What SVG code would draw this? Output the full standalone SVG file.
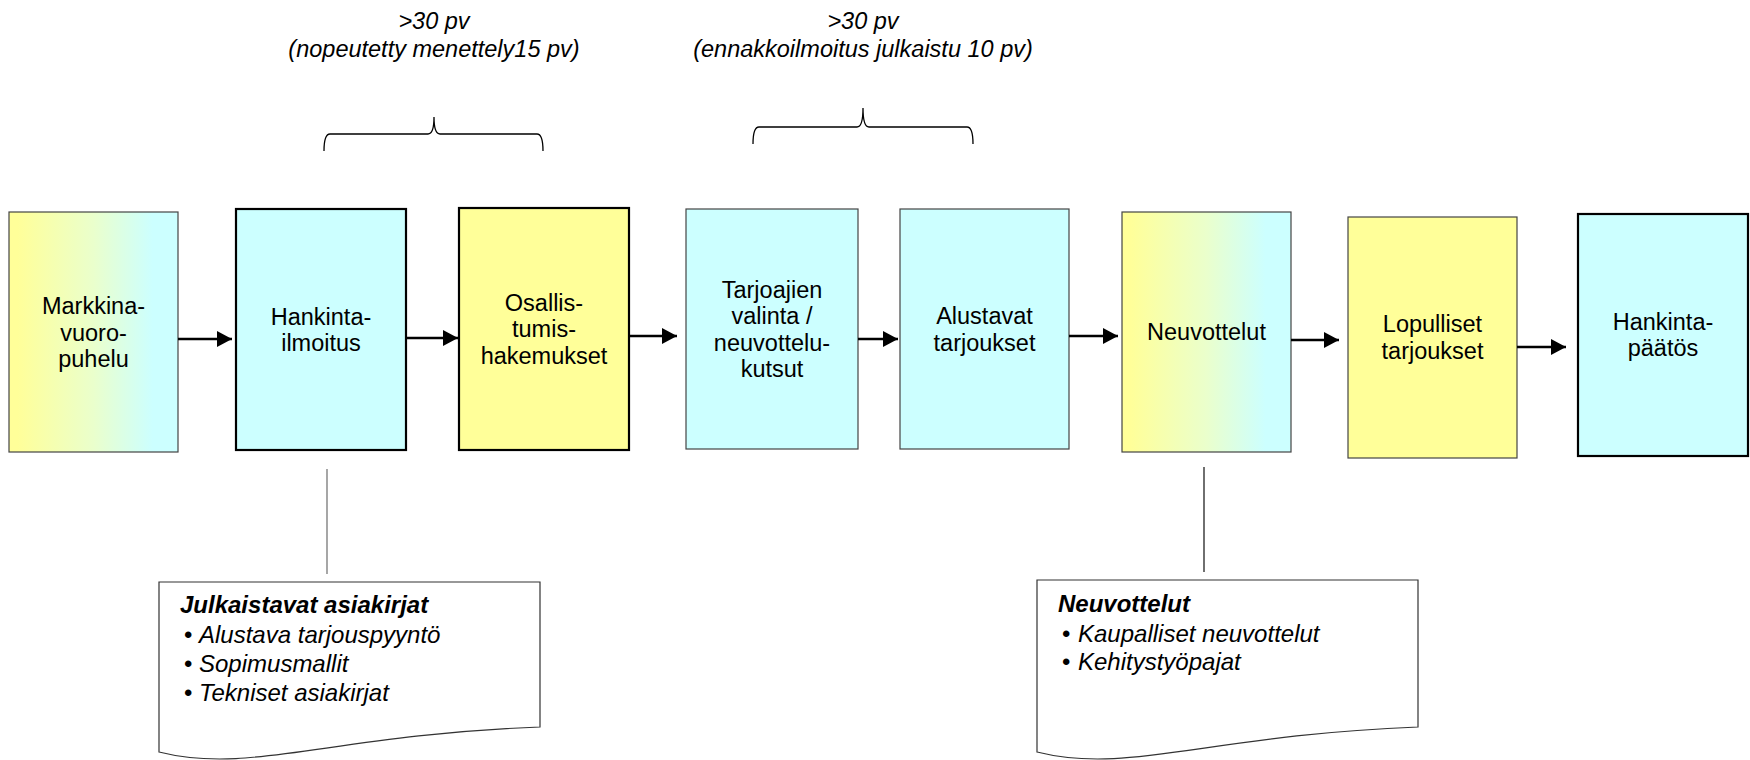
<svg xmlns="http://www.w3.org/2000/svg" width="1750" height="760" viewBox="0 0 1750 760">
<style>
  text { font-family: "Liberation Sans", Arial, sans-serif; fill: #000; }
  .lbl { font-size: 23.5px; text-anchor: middle; }
  .top { font-size: 23.5px; text-anchor: middle; font-style: italic; }
  .doc { font-size: 24px; font-style: italic; }
  .bul { font-size: 24px; }
  .doct { font-size: 24px; font-style: italic; font-weight: bold; }
  .thick { stroke: #000; stroke-width: 2.2; }
  .thin { stroke: #444; stroke-width: 1.2; }
  .cyan { fill: #CCFFFF; }
  .yellow { fill: #FFFF99; }
  .grad { fill: url(#yc); }
  .arrow { stroke: #000; stroke-width: 2.6; fill: none; marker-end: url(#ah); }
  .brace { stroke: #000; stroke-width: 1.3; fill: none; }
  .docshape { fill: #fff; stroke: #333; stroke-width: 1.2; }
</style>
<defs>
  <linearGradient id="yc" x1="0" y1="0" x2="1" y2="0">
    <stop offset="0.05" stop-color="#FFFF99"/>
    <stop offset="0.5" stop-color="#EAFFCC"/>
    <stop offset="0.85" stop-color="#CCFFFF"/>
  </linearGradient>
  <marker id="ah" markerUnits="userSpaceOnUse" markerWidth="16" markerHeight="17" refX="15" refY="8" orient="auto">
    <path d="M0,0 L15,8 L0,16 z" fill="#000"/>
  </marker>
</defs>
<rect width="1750" height="760" fill="#fff"/>

<g id="label-top1">
  <text class="top" x="434" y="29">&gt;30 pv</text>
  <text class="top" x="434" y="57">(nopeutetty menettely15 pv)</text>
</g>
<g id="label-top2">
  <text class="top" x="863" y="29">&gt;30 pv</text>
  <text class="top" x="863" y="57">(ennakkoilmoitus julkaistu 10 pv)</text>
</g>
<g id="braces">
  <path class="brace" d="M324,151 Q324,134 330,134 L428,134 Q434,134 434,117 Q434,134 440,134 L537,134 Q543,134 543,151"/>
  <path class="brace" d="M753,144 Q753,127 759,127 L857,127 Q863,127 863,108 Q863,127 869,127 L967,127 Q973,127 973,144"/>
</g>

<g id="n1">
  <rect class="grad thin" x="9" y="212" width="169" height="240"/>
  <text class="lbl" x="93.5" y="314">Markkina-</text>
  <text class="lbl" x="93.5" y="340.5">vuoro-</text>
  <text class="lbl" x="93.5" y="367">puhelu</text>
</g>
<g id="n2">
  <rect class="cyan thick" x="236" y="209" width="170" height="241"/>
  <text class="lbl" x="321" y="324.5">Hankinta-</text>
  <text class="lbl" x="321" y="351">ilmoitus</text>
</g>
<g id="n3">
  <rect class="yellow thick" x="459" y="208" width="170" height="242"/>
  <text class="lbl" x="544" y="310.5">Osallis-</text>
  <text class="lbl" x="544" y="337">tumis-</text>
  <text class="lbl" x="544" y="363.5">hakemukset</text>
</g>
<g id="n4">
  <rect class="cyan thin" x="686" y="209" width="172" height="240"/>
  <text class="lbl" x="772" y="297.5">Tarjoajien</text>
  <text class="lbl" x="772" y="324">valinta /</text>
  <text class="lbl" x="772" y="350.5">neuvottelu-</text>
  <text class="lbl" x="772" y="377">kutsut</text>
</g>
<g id="n5">
  <rect class="cyan thin" x="900" y="209" width="169" height="240"/>
  <text class="lbl" x="984.5" y="324">Alustavat</text>
  <text class="lbl" x="984.5" y="350.5">tarjoukset</text>
</g>
<g id="n6">
  <rect class="grad thin" x="1122" y="212" width="169" height="240"/>
  <text class="lbl" x="1206.5" y="340">Neuvottelut</text>
</g>
<g id="n7">
  <rect class="yellow thin" x="1348" y="217" width="169" height="241"/>
  <text class="lbl" x="1432.5" y="332">Lopulliset</text>
  <text class="lbl" x="1432.5" y="358.5">tarjoukset</text>
</g>
<g id="n8">
  <rect class="cyan thick" x="1578" y="214" width="170" height="242"/>
  <text class="lbl" x="1663" y="329.5">Hankinta-</text>
  <text class="lbl" x="1663" y="356">päätös</text>
</g>

<g id="connectors">
  <line class="arrow" x1="178" y1="339" x2="232" y2="339"/>
  <line class="arrow" x1="406" y1="338" x2="458" y2="338"/>
  <line class="arrow" x1="629" y1="336" x2="677" y2="336"/>
  <line class="arrow" x1="858" y1="339" x2="898" y2="339"/>
  <line class="arrow" x1="1069" y1="336" x2="1118" y2="336"/>
  <line class="arrow" x1="1291" y1="340" x2="1339" y2="340"/>
  <line class="arrow" x1="1517" y1="347" x2="1566" y2="347"/>
  <line x1="327" y1="469" x2="327" y2="574" stroke="#777" stroke-width="1.3"/>
  <line x1="1204" y1="467" x2="1204" y2="572" stroke="#222" stroke-width="1.3"/>
</g>

<g id="doc1">
  <path class="docshape" d="M159,582 L540,582 L540,727 C330,735 250,775 159,752 Z"/>
  <text class="doct" x="180" y="613">Julkaistavat asiakirjat</text>
  <text class="bul" x="184" y="643">•</text>
  <text class="doc" x="199" y="643">Alustava tarjouspyyntö</text>
  <text class="bul" x="184" y="672">•</text>
  <text class="doc" x="199" y="672">Sopimusmallit</text>
  <text class="bul" x="184" y="701">•</text>
  <text class="doc" x="199" y="701">Tekniset asiakirjat</text>
</g>
<g id="doc2">
  <path class="docshape" d="M1037,580 L1418,580 L1418,727 C1208,735 1128,775 1037,752 Z"/>
  <text class="doct" x="1058" y="612">Neuvottelut</text>
  <text class="bul" x="1062" y="642">•</text>
  <text class="doc" x="1078" y="642">Kaupalliset neuvottelut</text>
  <text class="bul" x="1062" y="670">•</text>
  <text class="doc" x="1078" y="670">Kehitystyöpajat</text>
</g>
</svg>
